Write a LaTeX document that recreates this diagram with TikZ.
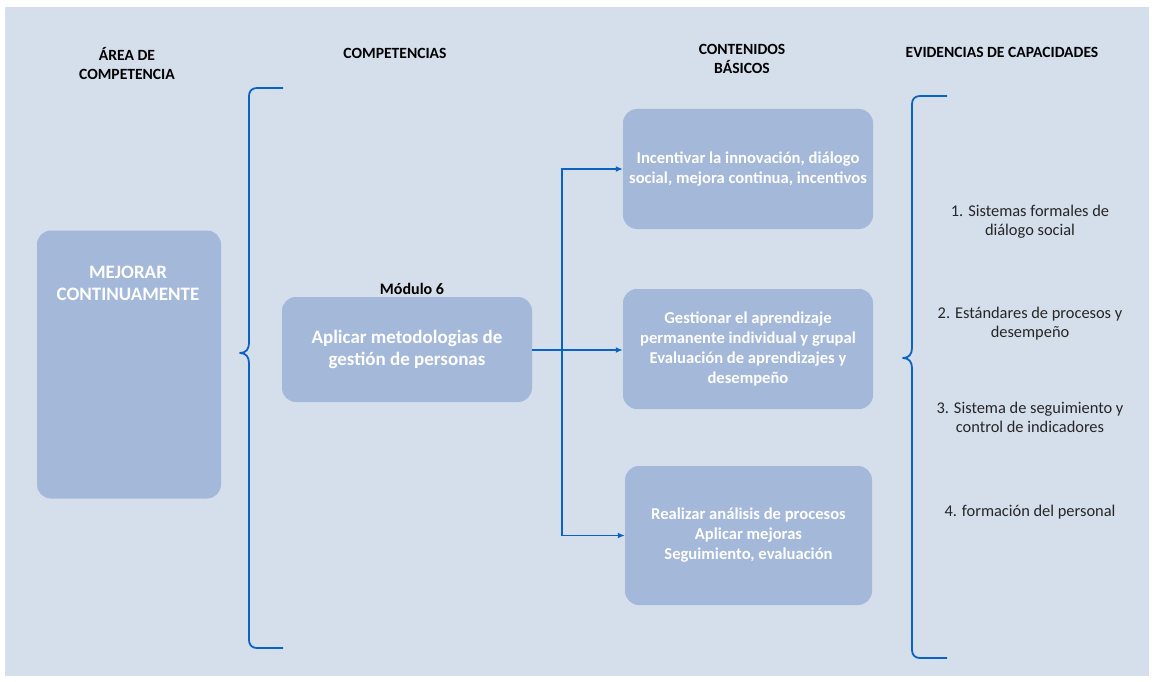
\documentclass[tikz,border=0pt]{standalone}
\usepackage{fontspec}
\setmainfont{Carlito}
\usetikzlibrary{arrows.meta}
\definecolor{bgc}{HTML}{D5DEEB}
\definecolor{boxc}{HTML}{A4B8DA}
\definecolor{lnc}{HTML}{0A62C2}
\definecolor{evc}{HTML}{262626}
\begin{document}
\begin{tikzpicture}[x=1pt,y=-1pt,
  boxn/.style={fill=boxc, rounded corners=14pt, inner sep=0pt, draw=none},
  boxt/.style={text=white, align=center, inner sep=0pt, font=\fontsize{16.6}{20}\selectfont\bfseries},
  bigt/.style={text=white, align=center, inner sep=0pt, font=\fontsize{19}{22}\selectfont\bfseries},
  hdr/.style={align=center, inner sep=0pt, font=\fontsize{15.6}{18.8}\selectfont\bfseries},
  evt/.style={align=center, inner sep=0pt, text=evc, font=\fontsize{16.4}{19.5}\selectfont},
  conn/.style={draw=lnc, line width=1.8pt, -{Latex[length=7pt,width=6pt]}},
  brc/.style={draw=lnc, line width=1.8pt, line join=round}
]
\useasboundingbox (0,0) rectangle (1154,682);
\fill[white] (0,0) rectangle (1154,682);
\fill[bgc] (5,7) rectangle (1149,676);

% headers
\node[hdr] (h1) at (127,63.5) {ÁREA DE\\COMPETENCIA};
\node[hdr] (h2) at (395,53) {COMPETENCIAS};
\node[hdr] (h3) at (742,59) {CONTENIDOS\\BÁSICOS};
\node[hdr] (h4) at (1002,52) {EVIDENCIAS DE CAPACIDADES};

% area box
\node[boxn, minimum width=184pt, minimum height=268pt] (area) at (129,364.5) {};
\node[bigt] (areat) at (128,283) {MEJORAR\\CONTINUAMENTE};

% module
\node[hdr, font=\fontsize{16}{18}\selectfont\bfseries] (modl) at (412,289) {Módulo 6};
\node[boxn, minimum width=250pt, minimum height=105pt, bigt] (mod) at (407,349.5) {Aplicar metodologias de\\gestión de personas};

% content boxes
\node[boxn, minimum width=250pt, minimum height=120pt, boxt] (c1) at (748,169) {Incentivar la innovación, diálogo\\social, mejora continua, incentivos};
\node[boxn, minimum width=250pt, minimum height=120pt, boxt] (c2) at (748,349) {Gestionar el aprendizaje\\permanente individual y grupal\\Evaluación de aprendizajes y\\desempeño};
\node[boxn, minimum width=247pt, minimum height=139pt, boxt] (c3) at (748.5,535.5) {Realizar análisis de procesos\\Aplicar mejoras\\Seguimiento, evaluación};

% connectors
\coordinate (j) at (562,350);
\draw[conn] (mod.east |- j) -- (c2.west |- j);
\draw[conn] (j) |- (c1.west);
\draw[conn] (j) |- (c3.west);

% braces
\draw[brc] (283,88) -- (257,88) .. controls (252,88) and (249,91) .. (249,96) -- (249,343)
  .. controls (249,349) and (246,353) .. (240,353)
  .. controls (246,353) and (249,357) .. (249,363) -- (249,640)
  .. controls (249,645) and (252,648) .. (257,648) -- (283,648);
\draw[brc] (947,96) -- (920,96) .. controls (915,96) and (912,99) .. (912,104) -- (912,348)
  .. controls (912,354) and (909,358) .. (903,358)
  .. controls (909,358) and (912,362) .. (912,368) -- (912,650)
  .. controls (912,655) and (915,658) .. (920,658) -- (947,658);

% evidences
\node[evt] (e1) at (1030,221.5) {1. Sistemas formales de\\diálogo social};
\node[evt] (e2) at (1030,323.5) {2. Estándares de procesos y\\desempeño};
\node[evt] (e3) at (1030,417.5) {3. Sistema de seguimiento y\\control de indicadores};
\node[evt] (e4) at (1030,512) {4. formación del personal};
\end{tikzpicture}
\end{document}
